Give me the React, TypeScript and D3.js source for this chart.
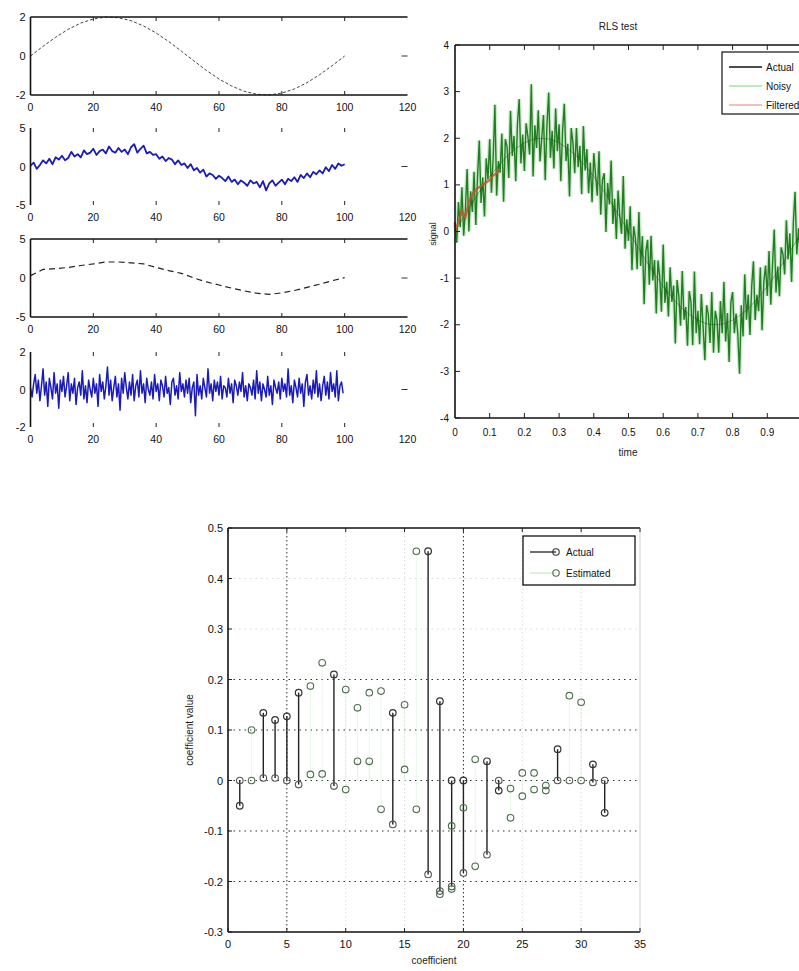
import * as d3 from "d3";

const FONT = "'Liberation Sans', Arial, Helvetica, sans-serif";

// ---------- left column: sample index 0..100 ----------
const sampleTicks = [0, 20, 40, 60, 80, 100, 120];

// clean sine, one value every 4 samples
const cleanStep = 4;
const cleanSine = [0, 0.5, 0.96, 1.37, 1.69, 1.9, 2.0, 1.96, 1.81, 1.54, 1.18, 0.74, 0.25, -0.25, -0.74, -1.18, -1.54, -1.81, -1.96, -2.0, -1.9, -1.69, -1.37, -0.96, -0.5, 0];

// noisy sine, one value per sample
const noisyStep = 1;
const noisySine = [
  0.1, 0.5, -0.3, 0.2, 0.8, 0.4, 1.0, 0.3, 1.2, 0.9,
  1.4, 0.8, 1.1, 1.9, 1.3, 1.6, 1.2, 2.1, 1.6, 1.8,
  2.3, 1.5, 2.0, 2.2, 1.7, 2.6, 2.0, 1.8, 2.4, 1.9,
  2.2, 1.6, 2.5, 2.9, 1.8, 2.3, 2.7, 1.7, 1.9, 1.5,
  1.6, 1.0, 1.3, 0.7, 1.1, 0.9, 0.3, 0.8, 0.2, 0.4,
  -0.2, 0.3, -0.5, -0.2, -0.8, -0.4, -1.3, -0.9, -1.1, -1.6,
  -1.2, -1.5, -1.9, -1.3, -2.0, -1.7, -2.3, -1.8, -2.1, -2.5,
  -1.8, -2.2, -2.0, -2.7, -1.9, -3.1, -2.2, -1.8, -2.5, -2.1,
  -1.7, -2.3, -1.6, -1.9, -1.4, -2.0, -1.1, -1.5, -0.9, -1.4,
  -0.7, -1.0, -0.5, -0.9, -0.1, -0.6, 0.2, -0.3, 0.4, 0.1, 0.3,
];

// filter output, one value every 4 samples
const outputStep = 4;
const filterOutput = [0.3, 1.1, 1.2, 1.35, 1.6, 1.8, 2.05, 2.05, 1.95, 1.8, 1.35, 0.95, 0.6, 0.0, -0.5, -0.9, -1.3, -1.65, -1.95, -2.1, -1.9, -1.6, -1.2, -0.8, -0.35, 0.05];

// noise alone, two values per sample
const noiseStep = 0.5;
const noiseOnly = [
  0.1, -0.4, 0.3, 0.8, -0.2, 0.5, -0.6, 0.2, 1.1, -0.3, 0.4, -0.9, 0.6, 0.1, -0.5, 0.9, -0.2, 0.3, -1.0, 0.5,
  -0.1, 0.7, -0.4, 0.2, 0.9, -0.6, 0.3, -0.2, 0.6, -0.8, 0.1, 0.4, -0.3, 1.0, -0.5, 0.2, -0.7, 0.5, 0.0, -0.4,
  0.6, -0.2, 0.3, -0.9, 0.8, -0.1, 0.4, -0.5, 0.2, 1.2, -0.3, 0.5, -0.6, 0.1, 0.7, -0.4, 0.3, -1.1, 0.6, -0.2,
  0.9, 0.1, -0.5, 0.4, -0.3, 0.8, -0.6, 0.2, 0.5, -0.4, 1.0, -0.2, 0.3, -0.7, 0.6, 0.0, -0.3, 0.4, -0.5, 0.8,
  -0.1, 0.3, -0.6, 0.5, 0.2, -0.4, 0.7, -0.2, 0.1, -0.8, 0.4, 0.6, -0.3, 0.2, -0.5, 0.9, -0.1, 0.3, -0.4, 0.5,
  -0.2, 0.6, -0.7, 0.1, 0.4, -1.4, 0.8, -0.3, 0.2, -0.5, 0.6, 0.1, -0.4, 1.1, -0.2, 0.3, -0.6, 0.5, -0.1, 0.4,
  -0.3, 0.7, -0.5, 0.2, 0.1, -0.4, 0.6, -0.2, 0.3, -0.7, 0.5, 0.2, -0.3, 0.4, -0.1, 0.9, -0.4, 0.2, -0.6, 0.3,
  0.1, -0.3, 0.5, -0.5, 1.0, -0.2, 0.4, -0.6, 0.3, 0.0, -0.4, 0.7, -0.3, 0.2, -0.8, 0.5, 0.1, -0.2, 0.4, -0.5,
  0.6, -0.1, 0.3, -0.4, 1.1, -0.3, 0.2, -0.7, 0.5, 0.1, -0.4, 0.6, -0.2, 0.3, -0.9, 0.4, 0.8, -0.3, 0.2, -0.5,
  0.5, -0.2, 1.0, -0.4, 0.3, -0.6, 0.2, 0.7, -0.3, 0.4, -0.5, 0.9, -0.1, 0.3, -0.4, 1.0, -0.6, 0.2, 0.4, -0.2,
];

// ---------- right: RLS test, time 0..1 ----------
const timeTicks = [0, 0.1, 0.2, 0.3, 0.4, 0.5, 0.6, 0.7, 0.8, 0.9];
const timeTickLabels = ["0", "0.1", "0.2", "0.3", "0.4", "0.5", "0.6", "0.7", "0.8", "0.9"];
const signalTicks = [4, 3, 2, 1, 0, -1, -2, -3, -4];

const noisyDt = 0.005;
const noisySignal = [
  0.2, -0.24, 0.63, 0.09, 0.95, -0.09, 0.48, 1.34, 0.0, 0.86,
  0.42, 1.28, 0.14, 1.19, 1.95, 0.61, 1.16, 0.32, 1.57, 1.12,
  1.98, 0.83, 1.58, 2.72, 0.77, 1.51, 1.26, 2.1, 0.64, 1.98,
  1.82, 1.15, 2.59, 1.62, 2.05, 1.08, 2.31, 2.84, 1.46, 2.08,
  1.3, 2.32, 2.04, 1.65, 3.16, 1.18, 2.28, 1.79, 2.6, 1.5,
  2.0, 2.5, 1.1, 2.29, 2.98, 1.58, 2.16, 1.35, 2.64, 1.72,
  2.3, 1.08, 2.16, 2.74, 1.51, 1.88, 0.75, 2.22, 1.89, 1.25,
  2.22, 1.38, 1.84, 0.8, 2.26, 1.31, 1.77, 0.82, 1.48, 0.63,
  1.68, 1.22, 0.77, 1.72, 0.36, 1.11, 1.25, -0.01, 1.04, 0.58,
  1.52, 0.16, 0.7, -0.16, 0.88, 0.31, -0.05, 1.19, -0.37, 0.26,
  -0.2, 0.54, -0.83, 0.11, -0.15, -0.81, 0.42, -0.74, -0.1, -1.56,
  -0.42, -0.18, -1.14, -0.09, -1.05, -0.61, -1.76, -0.62, -0.97, -1.72,
  -0.28, -1.53, -1.08, -1.82, -0.77, -1.51, -1.16, -2.4, -1.04, -1.38,
  -2.02, -0.85, -1.89, -1.62, -2.45, -1.28, -1.51, -2.44, -0.86, -2.18,
  -1.7, -2.42, -1.34, -2.05, -2.76, -1.58, -1.78, -2.39, -1.3, -2.6,
  -1.7, -1.9, -2.6, -1.49, -2.18, -1.08, -2.36, -1.75, -2.8, -1.52,
  -1.3, -2.18, -1.76, -2.2, -3.05, -1.58, -2.25, -0.92, -1.89, -1.35,
  -2.22, -1.18, -0.64, -1.9, -1.36, -1.71, -0.77, -2.12, -1.08, -0.73,
  -1.38, -0.42, -1.57, -0.72, 0.04, -1.31, -0.75, -1.39, -0.34, -0.48,
  -0.92, 0.24, -0.6, -0.04, -1.08, 0.19, 0.85, -0.49, 0.07, -0.56,
];

const actualDt = 0.025;
const actualSignal = [
  0, 0.31, 0.62, 0.91, 1.18, 1.41, 1.62, 1.78, 1.9, 1.98, 2.0, 1.98, 1.9, 1.78, 1.62, 1.41, 1.18, 0.91, 0.62, 0.31,
  0, -0.31, -0.62, -0.91, -1.18, -1.41, -1.62, -1.78, -1.9, -1.98, -2.0, -1.98, -1.9, -1.78, -1.62, -1.41, -1.18, -0.91, -0.62, -0.31, 0,
];

const filteredDt = 0.01;
const filteredSignal = [0.0, 0.2, 0.45, 0.3, 0.65, 0.8, 0.9, 0.95, 1.0, 1.05, 1.1, 1.2, 1.25, 1.35];

// ---------- bottom: coefficients ----------
const coefTicks = [0, 5, 10, 15, 20, 25, 30, 35];
const valueTicks = [0.5, 0.4, 0.3, 0.2, 0.1, 0, -0.1, -0.2, -0.3];
const valueTickLabels = ["0.5", "0.4", "0.3", "0.2", "0.1", "0", "-0.1", "-0.2", "-0.3"];

// actual coefficients drawn as segments from base to tip
const stemIndex = [1, 3, 4, 5, 6, 9, 14, 17, 18, 19, 20, 22, 23, 28, 31, 32];
const stemBase = [0, 0.005, 0.005, 0, -0.008, -0.011, -0.087, -0.186, -0.219, -0.21, -0.183, -0.147, 0, 0, -0.004, 0];
const stemTip = [-0.05, 0.134, 0.12, 0.127, 0.174, 0.21, 0.134, 0.454, 0.157, 0, 0, 0.038, -0.02, 0.062, 0.032, -0.064];

// estimated coefficients
const estIndex = [2, 2, 7, 7, 8, 8, 10, 10, 11, 11, 12, 12, 13, 13, 15, 15, 16, 16, 18, 19, 19, 20, 21, 21, 24, 24, 25, 25, 26, 26, 27, 27, 29, 29, 30, 30];
const estValue = [0.1, 0.0, 0.187, 0.012, 0.233, 0.013, 0.18, -0.018, 0.144, 0.038, 0.174, 0.038, 0.177, -0.057, 0.15, 0.022, 0.454, -0.057, -0.225, -0.09, -0.215, -0.054, 0.042, -0.17, -0.016, -0.074, 0.015, -0.031, 0.015, -0.018, -0.01, -0.02, 0.168, 0.0, 0.155, 0.0];

// ================================================================

const sampleX = d3.scaleLinear().domain([0, 120]).range([30.5, 407.5]);

type PanelProps = {
  top: number;
  bottom: number;
  limit: number;
  boxed: boolean;
  children: (y: d3.ScaleLinear<number, number>) => React.ReactNode;
};

function SamplePanel({ top, bottom, limit, boxed, children }: PanelProps) {
  const y = d3.scaleLinear().domain([-limit, limit]).range([bottom, top]);
  const left = sampleX(0);
  const right = sampleX(120);
  return (
    <g>
      {children(y)}
      <line x1={left} x2={left} y1={top} y2={bottom} stroke="#111" strokeWidth={1.6} />
      {boxed && (
        <>
          <line x1={left} x2={right} y1={top} y2={top} stroke="#111" strokeWidth={1.6} />
          <line x1={left} x2={right} y1={bottom} y2={bottom} stroke="#111" strokeWidth={1.6} />
        </>
      )}
      {sampleTicks.slice(1, -1).map((t) => (
        <g key={t}>
          <line x1={sampleX(t)} x2={sampleX(t)} y1={top} y2={top + 4} stroke="#222" />
          <line x1={sampleX(t)} x2={sampleX(t)} y1={bottom} y2={bottom - 4} stroke="#222" />
        </g>
      ))}
      <line x1={right - 6} x2={right} y1={y(0)} y2={y(0)} stroke="#333" />
      {[limit, 0, -limit].map((v) => (
        <text key={v} x={left - 5} y={y(v)} textAnchor="end" dominantBaseline="central" fontSize={11} fill="#111">
          {v}
        </text>
      ))}
      {sampleTicks.map((t) => (
        <text key={t} x={sampleX(t)} y={bottom + 12} textAnchor="middle" dominantBaseline="central" fontSize={10.5} fill="#111">
          {t}
        </text>
      ))}
    </g>
  );
}

function seriesPath(values: number[], step: number, y: d3.ScaleLinear<number, number>) {
  return (
    d3
      .line<number>()
      .x((_, i) => sampleX(i * step))
      .y((d) => y(d))(values) ?? ""
  );
}

function LeftColumn() {
  return (
    <g>
      <SamplePanel top={17} bottom={95} limit={2} boxed>
        {(y) => <path d={seriesPath(cleanSine, cleanStep, y)} fill="none" stroke="#444" strokeWidth={1} strokeDasharray="3,2" />}
      </SamplePanel>
      <SamplePanel top={128} bottom={205} limit={5} boxed={false}>
        {(y) => <path d={seriesPath(noisySine, noisyStep, y)} fill="none" stroke="#1b1bb8" strokeWidth={1.8} strokeLinejoin="round" />}
      </SamplePanel>
      <SamplePanel top={239} bottom={317} limit={5} boxed>
        {(y) => <path d={seriesPath(filterOutput, outputStep, y)} fill="none" stroke="#222" strokeWidth={1.2} strokeDasharray="6,4" />}
      </SamplePanel>
      <SamplePanel top={352} bottom={427} limit={2} boxed={false}>
        {(y) => <path d={seriesPath(noiseOnly, noiseStep, y)} fill="none" stroke="#1b1bb8" strokeWidth={1.5} strokeLinejoin="round" />}
      </SamplePanel>
    </g>
  );
}

function RlsPlot() {
  const x = d3.scaleLinear().domain([0, 1]).range([455, 802]);
  const y = d3.scaleLinear().domain([-4, 4]).range([418, 45]);
  const mk = (dt: number) =>
    d3
      .line<number>()
      .x((_, i) => x(i * dt))
      .y((d) => y(d));
  const noisyD = mk(noisyDt)(noisySignal) ?? "";
  const actualD = mk(actualDt)(actualSignal) ?? "";
  const filteredD = mk(filteredDt)(filteredSignal) ?? "";
  const legendItems = [
    { label: "Actual", color: "#111" },
    { label: "Noisy", color: "#a8e2a8" },
    { label: "Filtered", color: "#f1aaa0" },
  ];
  return (
    <g>
      <text x={618} y={30} textAnchor="middle" fontSize={10} fill="#222">
        RLS test
      </text>
      <path d={noisyD} fill="none" stroke="#9fdc9f" strokeWidth={4} strokeOpacity={0.55} />
      <path d={noisyD} fill="none" stroke="#237c23" strokeWidth={1.4} />
      <path d={actualD} fill="none" stroke="#1a2a1a" strokeWidth={1} strokeOpacity={0.35} />
      <path d={filteredD} fill="none" stroke="#c2562c" strokeWidth={2.2} strokeOpacity={0.85} />
      <line x1={455} x2={455} y1={45} y2={418} stroke="#111" strokeWidth={1.6} />
      <line x1={455} x2={799} y1={45} y2={45} stroke="#111" strokeWidth={1.6} />
      <line x1={455} x2={799} y1={418} y2={418} stroke="#111" strokeWidth={1.6} />
      {timeTicks.slice(1).map((t) => (
        <g key={t}>
          <line x1={x(t)} x2={x(t)} y1={418} y2={413} stroke="#222" />
          <line x1={x(t)} x2={x(t)} y1={45} y2={50} stroke="#222" />
        </g>
      ))}
      {signalTicks.map((v) => (
        <g key={v}>
          <line x1={455} x2={460} y1={y(v)} y2={y(v)} stroke="#222" />
          <text x={449} y={y(v)} textAnchor="end" dominantBaseline="central" fontSize={10} fill="#111">
            {v}
          </text>
        </g>
      ))}
      {timeTicks.map((t, i) => (
        <text key={t} x={x(t)} y={432} textAnchor="middle" dominantBaseline="central" fontSize={10} fill="#111">
          {timeTickLabels[i]}
        </text>
      ))}
      <text x={628} y={452} textAnchor="middle" dominantBaseline="central" fontSize={10} fill="#222">
        time
      </text>
      <text transform={`translate(433,234) rotate(-90)`} textAnchor="middle" dominantBaseline="central" fontSize={9} fill="#222">
        signal
      </text>
      <rect x={722} y={52} width={80} height={62} fill="#fff" stroke="#111" strokeWidth={1.2} />
      {legendItems.map((it, i) => (
        <g key={it.label}>
          <line x1={729} x2={762} y1={67 + i * 19} y2={67 + i * 19} stroke={it.color} strokeWidth={1.4} />
          <text x={766} y={67 + i * 19} dominantBaseline="central" fontSize={10} fill="#111">
            {it.label}
          </text>
        </g>
      ))}
    </g>
  );
}

function CoefPlot() {
  const x = d3.scaleLinear().domain([0, 35]).range([228, 640]);
  const y = d3.scaleLinear().domain([-0.3, 0.5]).range([932, 528]);
  const darkY = [-0.2, -0.1, 0, 0.1, 0.2];
  const darkX = [5, 20];
  return (
    <g>
      {/* grid */}
      {valueTicks.slice(1, -1).map((v) => (
        <line key={v} x1={x(0)} x2={x(35)} y1={y(v)} y2={y(v)} stroke={darkY.includes(v) ? "#333" : "#d8d8d8"} strokeWidth={1} strokeDasharray="1.5,4" />
      ))}
      {coefTicks.slice(1, -1).map((c) => (
        <line key={c} x1={x(c)} x2={x(c)} y1={y(0.5)} y2={y(-0.3)} stroke={darkX.includes(c) ? "#333" : "#dcdcdc"} strokeWidth={1} strokeDasharray="1.5,2.5" />
      ))}
      {/* faint estimated stems */}
      {estIndex.map((c, i) => (
        <line key={`fs${i}`} x1={x(c)} x2={x(c)} y1={y(0)} y2={y(estValue[i])} stroke="#cfeccf" strokeWidth={1} strokeOpacity={0.45} />
      ))}
      {/* actual segments */}
      {stemIndex.map((c, i) => (
        <g key={`s${c}`}>
          <line x1={x(c)} x2={x(c)} y1={y(stemBase[i])} y2={y(stemTip[i])} stroke="#222" strokeWidth={1.4} />
          <circle cx={x(c)} cy={y(stemTip[i])} r={3.3} fill="none" stroke="#333" strokeWidth={1.2} />
          <circle cx={x(c)} cy={y(stemBase[i])} r={3.3} fill="none" stroke="#555" strokeWidth={1.1} />
        </g>
      ))}
      {estIndex.map((c, i) => (
        <circle key={`e${i}`} cx={x(c)} cy={y(estValue[i])} r={3.3} fill="none" stroke="#4d6d4d" strokeWidth={1.1} />
      ))}
      {/* axes */}
      <line x1={x(0)} x2={x(0)} y1={y(0.5)} y2={y(-0.3)} stroke="#111" strokeWidth={1.6} />
      <line x1={x(0)} x2={x(35)} y1={y(-0.3)} y2={y(-0.3)} stroke="#111" strokeWidth={1.6} />
      <line x1={x(0)} x2={x(35)} y1={y(0.5)} y2={y(0.5)} stroke="#111" strokeWidth={1.6} />
      <line x1={x(35)} x2={x(35)} y1={y(0.5)} y2={y(-0.3)} stroke="#cfcfcf" strokeWidth={1} />
      {coefTicks.map((c) => (
        <g key={c}>
          <line x1={x(c)} x2={x(c)} y1={y(-0.3)} y2={y(-0.3) - 4} stroke="#222" />
          <line x1={x(c)} x2={x(c)} y1={y(0.5)} y2={y(0.5) + 4} stroke="#222" />
          <text x={x(c)} y={944} textAnchor="middle" dominantBaseline="central" fontSize={11} fill="#111">
            {c}
          </text>
        </g>
      ))}
      {valueTicks.map((v, i) => (
        <g key={v}>
          <line x1={x(0)} x2={x(0) + 4} y1={y(v)} y2={y(v)} stroke="#222" />
          <text x={x(0) - 5} y={y(v)} textAnchor="end" dominantBaseline="central" fontSize={11} fill="#111">
            {valueTickLabels[i]}
          </text>
        </g>
      ))}
      <text x={434} y={960} textAnchor="middle" dominantBaseline="central" fontSize={10} fill="#222">
        coefficient
      </text>
      <text transform={`translate(189,730) rotate(-90)`} textAnchor="middle" dominantBaseline="central" fontSize={10} fill="#222">
        coefficient value
      </text>
      {/* legend */}
      <rect x={523} y={536} width={112} height={49} fill="#fff" stroke="#111" strokeWidth={1.3} />
      <line x1={530} x2={556} y1={552} y2={552} stroke="#222" strokeWidth={1.3} />
      <circle cx={556} cy={552} r={3.2} fill="none" stroke="#333" strokeWidth={1.1} />
      <text x={566} y={552} dominantBaseline="central" fontSize={10} fill="#111">
        Actual
      </text>
      <line x1={530} x2={556} y1={573} y2={573} stroke="#c6eac6" strokeWidth={1.3} />
      <circle cx={556} cy={573} r={3.2} fill="none" stroke="#4d6d4d" strokeWidth={1.1} />
      <text x={566} y={573} dominantBaseline="central" fontSize={10} fill="#111">
        Estimated
      </text>
    </g>
  );
}

export default function App() {
  return (
    <svg
      width={799}
      height={971}
      viewBox="0 0 799 971"
      fontFamily={FONT}
      style={{ position: "absolute", left: 0, top: 0, display: "block", background: "#fff" }}
    >
      <rect width={799} height={971} fill="#fff" />
      <LeftColumn />
      <RlsPlot />
      <CoefPlot />
    </svg>
  );
}
